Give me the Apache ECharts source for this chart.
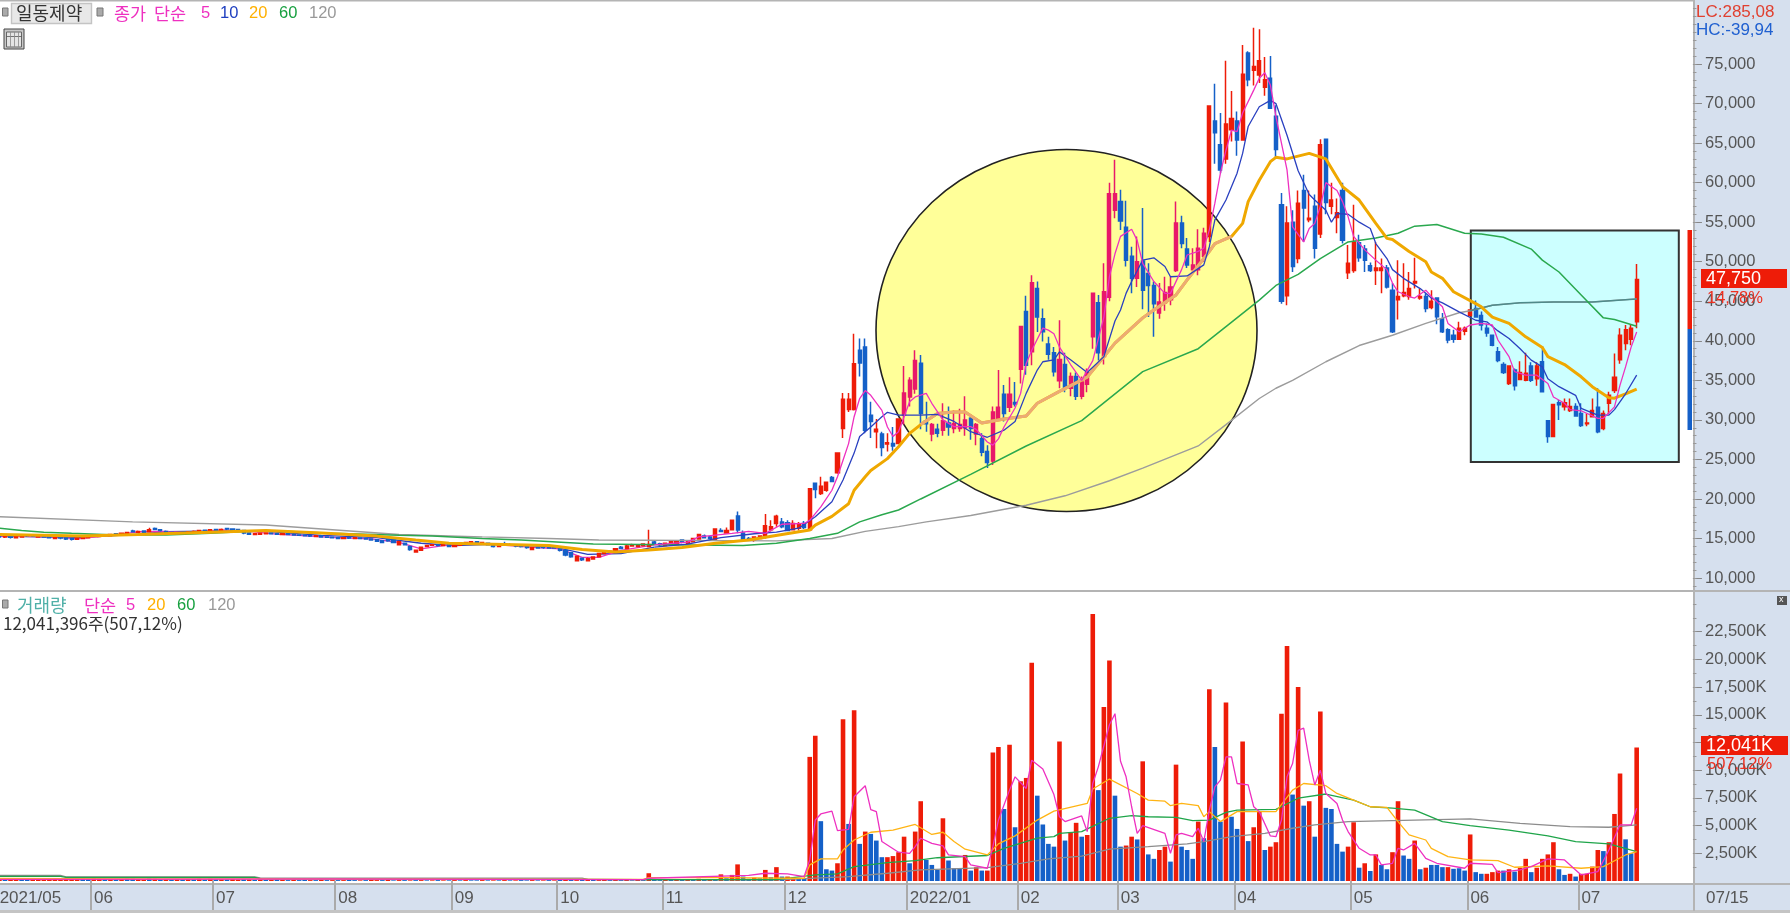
<!DOCTYPE html>
<html><head><meta charset="utf-8">
<style>html,body{margin:0;padding:0;background:#fff}#c{width:1790px;height:913px}</style>
<script src="https://cdn.jsdelivr.net/npm/echarts@6/dist/echarts.min.js"></script>
</head><body><div id="c"></div>
<script>
// Prices are in thousands of won, rows are [open, high, low, close]
const flatCandles = [
[15.3,15.45,15.1,15.2],[15.2,15.35,15.05,15.25],[15.3,15.4,15,15.15],[15.1,15.4,15.05,15.3],[15.2,15.45,15.15,15.35],[15.4,15.5,15.2,15.35],[15.4,15.5,15.2,15.3],[15.2,15.45,15.15,15.35],[15.35,15.4,15.1,15.2],[15.25,15.35,15,15.1],
[15,15.3,14.9,15.15],[15.2,15.25,14.9,15.05],[15.1,15.2,14.8,14.95],[15,15.05,14.75,14.9],[14.9,15.15,14.85,15.05],[15,15.25,14.95,15.15],[15.1,15.35,15.05,15.25],[15.35,15.45,15.2,15.3],[15.25,15.5,15.2,15.4],[15.45,15.55,15.3,15.4],
[15.35,15.6,15.3,15.5],[15.6,15.65,15.4,15.5],[15.45,15.75,15.4,15.65],[15.6,15.85,15.55,15.75],[15.95,16.1,15.75,15.85],[15.8,16,15.7,15.9],[15.95,16,15.7,15.8],[15.85,16.35,15.8,16.1],[16.25,16.4,16.05,16.15],[16.1,16.2,15.9,16],
[15.9,16,15.65,15.75],[15.8,15.85,15.55,15.7],[15.65,15.8,15.5,15.7],[15.75,15.85,15.55,15.65],[15.7,15.95,15.65,15.8],[15.75,16,15.7,15.9],[15.85,16.05,15.8,16],[16.05,16.1,15.85,15.95],[15.95,16.15,15.9,16.1],[16.15,16.2,15.95,16.05],
[16.05,16.25,16,16.15],[16.25,16.35,16.05,16.2],[16.2,16.25,16,16.05],[16.15,16.2,15.95,16.05],[16,16.05,15.55,15.7],[15.7,15.75,15.45,15.55],[15.5,15.7,15.45,15.6],[15.55,15.7,15.5,15.65],[15.6,15.75,15.55,15.7],[15.7,15.75,15.5,15.6],
[15.6,15.7,15.45,15.55],[15.5,15.65,15.45,15.6],[15.6,15.65,15.4,15.5],[15.5,15.55,15.35,15.45],[15.45,15.5,15.3,15.4],[15.4,15.45,15.25,15.35],[15.35,15.4,15.2,15.3],[15.25,15.4,15.2,15.35],[15.35,15.4,15.1,15.2],[15.2,15.25,15.05,15.15],
[15.15,15.2,15,15.1],[15.1,15.15,14.9,15],[15,15.15,14.95,15.1],[15.1,15.2,14.95,15.05],[15,15.15,14.9,15.1],[15.05,15.1,14.9,15],[15,15.1,14.85,14.95],[14.95,15,14.7,14.8],[14.85,14.9,14.55,14.65],[14.7,14.8,14.4,14.5],
[14.95,15,14.6,14.7],[14.8,14.85,14.4,14.5],[14.2,14.7,14.15,14.6],[14.4,14.5,14.1,14.2],[14,14.1,13.45,13.6],[13.3,13.55,13.2,13.5],[13.5,13.95,13.45,13.9],[14,14.2,13.9,14.1],[14.15,14.3,14.05,14.2],[14.2,14.3,14,14.1],
[14.1,14.3,14.05,14.25],[14.2,14.25,13.9,14],[14,14.2,13.95,14.15],[14.15,14.4,14.1,14.35],[14.3,14.55,14.25,14.5],[14.4,14.65,14.35,14.6],[14.6,14.65,14.4,14.5],[14.35,14.6,14.3,14.5],[14.4,14.45,14.1,14.2],[14.15,14.2,13.85,14],
[14,14.1,13.9,14.05],[14.3,14.6,14.1,14.2],[14.2,14.4,14.05,14.15],[14.1,14.2,13.9,14.05],[14.05,14.15,13.85,14],[13.95,14,13.7,13.85],[13.6,13.95,13.55,13.85],[13.85,14,13.7,13.8],[13.9,14,13.7,13.85],[13.9,13.95,13.7,13.8],
[13.85,13.95,13.7,13.8],[13.8,13.85,13.35,13.5],[13.5,13.55,12.75,12.9],[13.2,13.3,12.55,12.7],[12.2,12.85,12.1,12.75],[12.5,12.55,12.15,12.3],[12.2,12.6,12.15,12.45],[12.4,12.75,12.35,12.65],[12.7,13.2,12.65,13.1],[13.1,13.4,13,13.3],
[13.3,13.5,13.2,13.4],[13.4,13.8,13.35,13.7],[13.9,14.05,13.65,13.75],[13.75,14.2,13.7,14.05],[14.05,14.35,13.95,14.15],[14,14.3,13.9,14.2],[14.1,14.4,14,14.3],[14,16.1,13.95,14.25],[14.55,14.7,14.2,14.3],[14.35,14.45,14.05,14.2],
[14.1,14.5,14.05,14.4],[14.2,14.7,14.15,14.6],[14.25,14.8,14.2,14.7],[14.8,14.9,14.4,14.55],[14.4,14.8,14.35,14.7],[14.6,15.1,14.55,15],[14.95,15.6,14.9,15.5]];
const rallyCandles = [
[15.3,15.5,15.1,15.1],[15.2,15.3,14.9,15],[14.8,16.2,14.8,16.2],[16,16.3,15.8,15.9],[15.7,16.4,15.6,16],[16.1,17.4,16.1,17.3],[17.85,18.4,15.65,16.07],[15.7,16,14.9,14.9],[15,15.2,14.8,14.9],[14.8,15.2,14.6,15.2],
[15,15.4,14.9,15.3],[15.2,18.1,15,16.6],[16.1,17.3,15.9,16.5],[16.9,18,16.5,17.8],[17.1,17.6,16.3,16.5],[17,17.3,16,16],[16.1,17.3,16,16.9],[16.3,17.1,16,16.8],[16.9,17.2,16.2,16.4],[16.1,21.3,16,21.3],
[22,22,20.1,21.2],[20.7,22.8,20.5,21.6],[21.1,22.1,20.9,22.1],[22.7,22.9,22.1,22.2],[23.3,25.8,23.2,25.8],[28.9,33.4,27.7,32.6],[31.3,33.4,31,32.6],[31.3,40.9,31.2,37.1],[38.8,40.3,35.5,37.2],[39.2,40.3,28.3,28.7],
[30.6,32.3,27.7,29.8],[28.5,30.1,26.4,28.8],[28.2,28.5,25.4,26.5],[26.95,28.3,26,27.1],[27,29.1,26.1,26.7],[27,30.1,27,30.1],[30.6,36.8,29.4,33.4],[32.9,35.4,31.7,35],[33.9,38.8,33.3,37.5],[37.15,38.2,28.8,30.8],
[29.9,32.3,28.5,29.5],[28.2,29.6,27.3,29.4],[28.8,29.5,27.8,28.3],[28.7,32.1,28,29.9],[29.6,31.7,28,29.1],[28.9,31.2,28.3,29.5],[28.9,31.4,28.5,29.4],[29,33,28,30],[30.2,30.6,27.5,28.9],[28.2,29.6,26.8,29.4],
[27.6,28.3,25.4,25.9],[26,26.8,23.9,24.6],[24.8,31.7,24.3,31],[30.2,36.3,30,31.6],[33.25,34.4,29.8,30.8],[31.6,35.4,31,33.25],[32.2,34.8,31.7,32],[36.4,41.9,34.6,41.8],[43.7,45.7,35.7,36.9],[38.6,48.3,36.9,47.35],
[46.6,47.5,41.1,43],[42.8,44.1,39.9,41.15],[39.6,40.5,37.6,38.3],[38.5,39.2,35.5,36.1],[34.95,42.6,34,37.65],[37,38.5,33.5,34],[34,36,33,35.5],[35.5,36,32.5,33],[33,35.5,32.6,34.8],[34.5,36.5,33.5,36],
[40.5,46,39,46],[44.8,45.8,37.5,38.5],[38,49.8,37,46.2],[45.5,60,45,58.6],[56.5,62.9,55.5,58.6],[57.6,59.1,54,55.15],[54.35,57.7,49.4,50.2],[50.7,51.9,46,47.9],[47.9,53.2,46.8,50],[50.1,56.8,44,46.4],
[48.5,49.8,43,47],[47,47.5,40.5,44.7],[43.5,47.3,42.8,44.9],[44.8,48.1,43.8,46.1],[45.2,48.1,44.5,46.8],[48.9,57.6,48.7,54.9],[54.9,55.8,51.7,52.3],[51.6,53,49.2,49.6],[49,51.7,48.9,49.6],[49,54.1,48.3,51.7],
[50.7,54.3,50,53.6]];
const declineCandles = [
[53.2,69.7,52.5,69.7],[67.8,72.5,62.4,66.3],[64.8,68.8,61.2,61.6],[63,75.4,62.4,67.4],[66.7,71.6,65.2,68.1],[67.8,69,63.4,65.4],[65.4,77.4,65.4,73.7],[76.4,76.6,72.2,73],[74.2,79.6,72.3,74.7],[73.6,79.4,72.6,75.4],
[72.05,75.9,71,73],[73.2,76,69.4,69.4],[68.4,69.8,63,64.2],[57.2,58.7,44.7,45],[45.7,57,44.5,54.9],[55,56.5,48.7,49.4],[50.4,59,49.8,57.4],[59,61,52.5,56.8],[55.3,59,55,55.5],[57,58.5,50.4,51.7],
[53.5,65.5,53,64.8],[65.5,65.5,56,57.5],[57,60,56,57.8],[55.6,58,53.6,56.2],[59,60,52.3,52.7],[48.6,52.1,47.8,49.8],[48.9,57.2,48.6,52.5],[52.4,53.4,50,50.5],[51.6,52.1,48.7,50.2],[49.5,49.9,48.7,48.9],
[48.9,52.5,47.05,49.2],[48.9,50.4,46,49.2],[49.2,49.6,46.6,46.8],[46.4,47.3,41,41.15],[45.2,50.2,42.7,45.6],[45.7,49.8,45.5,46.1],[45.6,48.7,45.2,46.6],[47.3,50.5,46.6,47.5],[45.4,46.6,45.2,45.6],[45.6,46,43.6,44.1],
[44.2,46.4,44,45],[45.4,45.5,42.1,43.05],[42.8,43.5,41,41.15],[41.4,41.6,39.7,40.1],[40.7,41.4,39.75,40.2],[40.2,42.4,40.1,41.6],[41.2,41.8,40.7,41.6],[43.2,43.9,43.1,43.9],[44.1,45.1,42.9,43],[43.2,43.7,41.3,42],
[41.6,42.2,40.5,41],[40.7,40.8,39.3,39.45],[38.6,39.2,37.3,37.5],[37,37.3,35.8,36],[34.6,36.9,34.4,36.8],[36.3,36.5,33.7,34.3],[35.1,37.4,35,36],[35,38.5,34.9,35.9],[36.8,37.3,34.8,35],[35.2,37.3,34.3,36.8],
[37.35,39.3,33.5,33.55],[29.9,29.9,27.1,27.9],[27.9,31.95,27.9,31.95],[32.15,32.5,30,31.9],[31.65,32.7,31.2,32.15],[31.2,32.7,31,31.7],[31.7,32.1,30.4,30.5],[30.8,32.1,29.1,29.3],[29.5,30.8,29.2,29.6],[30.4,32.7,30.3,31.2],
[31.6,34,28.3,28.5],[28.9,31.2,28.7,30.8],[32.1,33.55,30.7,33.1],[33.7,38.4,33.4,35.4],[37.6,41.6,37.1,40.7],[39.65,42,38.8,41.4],[40.2,42,39.45,41.6],[42.4,49.7,41.6,47.75]];

// Moving averages of the close: vertices as [session, price]
const priceMa5 = [[0,15.3],[10,15.2],[14,14.95],[20,15.4],[25,15.85],[30,15.9],[34,15.7],[40,16.1],[45,15.9],[50,15.55],[60,15.15],[67,14.95],[72,14.5],[76,13.7],[80,14.1],[85,14.4],[90,14.2],[97,13.85],[101,13.7],[105,12.6],[108,12.6],[112,13.5],[118,14.2],[124,14.55],[126,15.2],[132,15.65],[135,15.9],[138,15.65],[141,16.8],[145,16.9],[146,17.3],[148,19],[150,21.1],[151,22.8],[152,24.9],[153,27],[154,30.4],[155,32.7],[156,33.7],[157,33.1],[159,31.2],[160,29.1],[161,27.9],[162,28.5],[163,30.4],[164,32.3],[165,32.9],[167,33.35],[168,32.1],[170,30],[172,29.15],[175,29.15],[176,28.8],[178,27.2],[179,26.8],[180,27.6],[181,29.1],[183,31.5],[184,33.35],[185,37.1],[186,38.8],[188,41.6],[189,41.35],[190,40.9],[191,39.2],[193,37],[195,35],[197,37.5],[199,43],[200,48.1],[201,51],[202,53.2],[204,54.1],[205,52.7],[206,49.8],[208,47.5],[210,46],[211,46],[213,49],[214,50.85],[216,51.3],[217,51.7],[218,54],[219,57.4],[220,61.2],[221,64.1],[222,66.65],[223,66.45],[224,68.8],[226,71.7],[227,73.2],[228,73.9],[229,72.35],[230,68.35],[232,61.6],[233,54.4],[235,52.5],[236,54.2],[237,54.85],[238,57],[239,60],[241,59],[242,57.6],[243,55.7],[244,53.2],[246,51.5],[248,50.2],[250,49],[251,47.3],[252,46.2],[254,45.6],[255,45.4],[257,46.4],[258,45.6],[260,44.3],[261,42.2],[263,41.15],[265,42],[267,42.2],[269,42],[270,40.1],[272,38],[273,36.1],[275,35.65],[277,35.65],[279,34.6],[280,32.9],[282,32.1],[283,31.3],[285,31.15],[288,30.2],[289,30.2],[291,31.65],[292,34.4],[293,36.7],[294,39.2],[295,41.1]];
const priceMa10 = [[0,15.3],[14,15.1],[24,15.5],[30,15.85],[40,15.95],[48,15.9],[58,15.4],[68,15.1],[76,14.4],[82,14.1],[90,14.3],[100,13.9],[106,13],[112,13.1],[118,13.9],[124,14.3],[130,15.1],[136,15.6],[140,15.8],[144,16.3],[147,17.75],[150,19.65],[152,22.4],[154,25.8],[155,27.9],[157,29.1],[159,30.4],[160,30.95],[162,30.6],[166,30.6],[169,30.7],[172,29.8],[175,28.5],[178,27.8],[181,28.7],[183,29.8],[185,33.35],[187,36.3],[188,37.35],[190,37.6],[191,38.6],[193,37.6],[196,36],[199,38],[201,42.5],[202,43.9],[203,46],[204,47.5],[206,50.2],[208,50.5],[210,49.4],[211,48.1],[214,48.2],[217,49.6],[218,51.9],[219,55.3],[221,57.8],[223,61.2],[224,63.7],[225,67.1],[227,69.6],[229,70.4],[230,70],[232,66],[234,61.5],[236,58.5],[237,57.8],[239,56.5],[240,55],[241,56.1],[243,56],[245,55],[247,54.2],[248,52.3],[250,50.4],[251,49],[253,47.9],[256,46.6],[258,45.4],[260,44.8],[263,43.65],[266,42.6],[268,42.4],[270,41.25],[272,40.3],[274,39],[276,37.55],[278,36.7],[279,35.2],[281,34.2],[284,33.1],[285,31.45],[288,30.6],[290,30.6],[291,31.3],[293,33.3],[295,35.65]];
const priceMa20 = [[0,15.5],[15,15.3],[25,15.5],[38,15.8],[48,16],[58,15.7],[68,15.3],[75,14.8],[81,14.4],[87,14.3],[99,14.1],[105,13.6],[108,13.45],[111,13.3],[117,13.55],[123,13.85],[129,14.4],[135,14.8],[141,15.5],[146,16.07],[147,16.7],[150,17.8],[153,19.4],[154,21.1],[156,22.8],[157,23.6],[160,25.1],[162,26.6],[164,28.3],[166,29.4],[169,30.8],[172,31],[174,31],[177,29.6],[181,30.1],[185,30.5],[187,32.1],[191,33.6],[196,35.4],[201,39.7],[206,42.9],[208,43.9],[212,45.8],[214,47.7],[218,51.3],[219,52.3],[222,53.2],[224,54.85],[225,57.6],[227,60.3],[229,62.65],[230,63.2],[232,63],[236,63.7],[239,63],[242,59.5],[245,57.8],[248,54.85],[250,52.95],[251,52.8],[254,51.3],[257,50],[258,48.7],[260,47.9],[262,46.2],[266,44.7],[267,44.3],[269,43],[272,42.2],[275,40.5],[278,39.15],[279,38],[282,37],[285,35.45],[287,34.2],[290,32.8],[291,32.75],[293,33.3],[295,33.9]];
const priceMa60 = [[0,16.3],[4,16],[8,15.8],[13,15.65],[21,15.45],[30,15.45],[38,15.65],[48,16],[60,15.65],[72,15.4],[78,15.3],[87,15],[94,14.8],[102,14.5],[107,14.3],[134,14.1],[140,14.4],[146,15],[151,15.65],[155,17.1],[159,18],[162,18.6],[166,20],[175,23.1],[185,26.7],[195,29.9],[206,36.1],[216,39],[221,41.8],[227,45.15],[230,47],[234,48.4],[238,50.4],[243,52.5],[248,53],[252,53.6],[255,54.5],[259,54.7],[264,53.6],[267,53.5],[271,53.1],[276,51.6],[278,50.2],[281,48.7],[285,45.8],[289,42.9],[291,42.7],[295,41.85]];
const priceMa120 = [[0,17.75],[24,17.1],[48,16.7],[72,15.5],[87,15.2],[99,15],[108,14.8],[140,14.7],[150,15],[156,15.9],[162,16.5],[167,17.1],[175,17.9],[185,19.2],[192,20.4],[200,22.3],[206,23.9],[216,26.7],[221,29.4],[227,32.7],[230,34],[233,35],[239,37.35],[245,39.4],[251,40.7],[257,42.2],[263,43.55],[265,43.8],[269,44.5],[274,44.8],[280,44.9],[287,44.9],[295,45.3]];

// Daily volume in millions of shares, rows are [volume, 1 if the bar is red]
const quietVolumes = [
[.2,1],[.18,0],[.22,1],[.16,1],[.2,0],[.18,0],[.24,1],[.2,1],[.17,1],[.2,1],[.18,1],[.15,1],[.2,1],[.2,1],[.16,1],[.22,0],[.2,0],[.24,1],[.2,1],[.18,0],
[.16,1],[.14,0],[.18,1],[.2,0],[.2,0],[.16,1],[.14,1],[.22,0],[.2,1],[.14,0],[.16,1],[.14,0],[.16,1],[.14,0],[.18,1],[.16,0],[.2,1],[.14,0],[.2,1],[.16,0],
[.16,1],[.14,0],[.18,1],[.14,1],[.16,0],[.14,1],[.12,0],[.12,1],[.1,0],[.1,1],[.12,0],[.1,1],[.08,0],[.1,1],[.08,0],[.1,0],[.08,1],[.08,0],[.1,1],[.08,0],
[.08,1],[.08,0],[.08,1],[.1,0],[.08,0],[.06,1],[.08,0],[.1,1],[.08,1],[.08,0],[.1,1],[.06,0],[.08,1],[.08,0],[.06,1],[.08,0],[.08,1],[.06,0],[.06,1],[.08,0],
[.06,1],[.06,0],[.08,1],[.06,0],[.08,1],[.06,0],[.06,0],[.08,1],[.06,0],[.06,1],[.06,0],[.08,1],[.06,0],[.06,1],[.08,0],[.06,0],[.08,1],[.06,0],[.06,1],[.08,0],
[.06,1],[.1,0],[.12,1],[.1,0],[.08,1],[.1,0],[.1,1],[.1,0],[.08,1],[.1,1],[.08,0],[.1,1],[.08,0],[.1,1],[.06,0],[.1,1],[.08,0],[.7,1],[.12,0],[.08,0],
[.1,1],[.1,0],[.12,1],[.1,0],[.12,1],[.14,0],[.2,1],[.16,0],[.12,1],[.12,0],[.6,1],[.25,0],[.55,1],[1.5,1],[.4,0],[.2,0],[.3,1],[.25,0],[1,1],[.35,0],
[1.25,1],[.4,0],[.4,1],[.3,1],[.25,0],[.25,0]];
const activeVolumes = [
[11.2,1],[13.1,1],[5.4,0],[1.06,0],[.94,0],[1.6,1],[14.6,1],[5.15,0],[15.4,1],[3.35,0],[4.46,1],[4.25,0],[3.65,0],[2.15,0],[2.15,1],[2.25,1],[2.6,1],[4,1],[1.6,0],[4.46,1],
[7.2,1],[1.9,0],[1.45,0],[1,0],[5.66,1],[1.85,0],[1.15,0],[1.15,0],[2.35,1],[.94,0],[1.24,1],[.94,0],[.94,1],[11.6,1],[12.1,1],[6.5,0],[12.3,1],[4.85,0],[9,1],[9.3,1],
[19.7,1],[7.7,0],[5.1,0],[3.35,0],[3.1,0],[12.6,1],[3.65,0],[4.4,1],[5.25,1],[4,0],[4.15,1],[24.1,1],[8.2,0],[15.7,1],[19.9,1],[7.7,0],[3.1,0],[3.2,1],[4,1],[3.75,0],
[10.8,1],[2.4,0],[2,0],[2.8,1],[3.1,1],[1.75,0],[10.5,1],[3.1,0],[2.8,0],[2,0],[5.36,1],[3.86,0],[17.3,1],[12.1,0],[5.36,0],[16.1,1],[5.8,0],[4.7,0],[12.6,1],[3.6,0],
[4.85,1],[6.25,1],[2.8,0],[3.1,1],[3.5,1],[15.1,1],[21.2,1],[7.8,0],[17.5,1],[6.8,0],[7.2,1],[4,0],[15.3,1],[6.6,0],[6.5,0],[3.35,0],[2.65,0],[3.1,1],[5.3,1],[1.2,0],
[1.6,1],[.9,0],[2.4,1],[1.45,0],[1.06,0],[2.6,1],[7.2,1],[2.3,0],[2,0],[3.65,1],[1.06,0],[1.2,1],[1.45,0],[1.45,0],[1.25,0],[1.25,1],[1.1,0],[1.15,0],[.94,0],[4.2,1],
[.8,0],[.65,0],[.65,1],[.8,1],[.94,1],[.94,0],[1.06,1],[.85,0],[1.2,1],[2,1],[.8,0],[1.2,1],[2,1],[2.4,1],[3.5,1],[1.06,0],[.55,0],[.65,1],[.4,0],[.65,1],
[.65,1],[1.3,1],[2.8,1],[2.7,0],[3.5,1],[6.05,1],[9.7,1],[3.76,0],[2.5,0],[12.04,1]];

// Moving averages of the volume: vertices as [session, millions]
const volumeMa5 = [[0,.15],[60,.18],[116,.13],[117,.25],[135,.5],[138,.7],[142,.64],[145,.4],[146,1.9],[147,5.5],[148,6.05],[150,6.3],[151,4.55],[153,4.65],[154,7.6],[156,8.6],[157,6.45],[158,6.26],[159,3.56],[162,2.6],[164,2.5],[165,3.1],[166,3.86],[168,3.4],[170,3.17],[171,2.35],[174,2.2],[175,1.45],[178,1.15],[179,3.1],[180,5.5],[182,8.2],[183,9.4],[185,8.35],[186,10.9],[188,10.1],[190,7.8],[191,5.8],[192,5.36],[195,5.87],[196,4.46],[197,8.8],[198,10.3],[200,14.1],[201,15.1],[202,10.8],[203,9.4],[204,6.7],[205,4.3],[206,5],[210,4.3],[211,2.5],[212,4.16],[213,4.3],[215,4],[216,4.76],[217,3.56],[218,6.4],[219,8.5],[220,9.1],[221,11.2],[222,11.2],[223,8.8],[225,8.67],[226,6.7],[227,6.26],[229,4.07],[230,4],[231,5.5],[232,9.4],[233,10.6],[234,13.6],[235,13.8],[236,10.9],[237,8.67],[238,10],[239,7.9],[241,7],[242,5.5],[243,4.46],[245,2.95],[247,2.35],[248,2.35],[249,1.45],[251,1.6],[252,2.95],[253,2.8],[255,3.4],[257,2.05],[259,1.6],[264,1.15],[265,1.6],[269,1.5],[270,.76],[274,1],[276,1.3],[279,2],[282,1.9],[285,.55],[288,.85],[290,2.8],[292,5.06],[294,5.06],[295,6.56]];
const volumeMa20 = [[0,.24],[27,.18],[47,.2],[116,.15],[117,.3],[130,.3],[143,.25],[145,.25],[146,1.45],[148,2],[151,2],[152,2.8],[154,3.7],[157,4.4],[161,4.6],[165,5.1],[168,4.2],[170,4.4],[172,3.56],[174,2.87],[178,2.35],[180,3.35],[183,4.07],[187,5.5],[190,6.3],[196,7],[197,8.3],[200,9.2],[205,7.9],[207,7.3],[210,7.2],[211,6.8],[213,7],[216,6.8],[217,5.8],[218,6.26],[220,5.36],[223,6.26],[226,6.26],[230,6.26],[233,8.2],[235,8.8],[239,8.6],[241,7.9],[244,7.3],[247,6.7],[250,6.65],[252,5.36],[254,4.16],[257,3.7],[258,2.95],[261,2.2],[265,1.9],[270,1.84],[273,1.24],[279,1.36],[285,1.15],[289,1.3],[293,2.35],[295,2.65]];
const volumeMa60 = [[0,.42],[11,.42],[12,.32],[46,.32],[47,.2],[105,.15],[116,.13],[140,.13],[147,.55],[151,.64],[154,1.3],[160,1.66],[165,1.84],[169,2.1],[178,2.3],[181,2.95],[187,3.86],[190,4],[191,4.3],[195,4.46],[200,5.66],[204,5.9],[207,5.8],[212,5.75],[215,5.45],[218,5.5],[221,6.2],[223,6.4],[230,6.47],[234,7.47],[239,7.85],[244,7.3],[247,6.7],[251,6.57],[255,6.4],[260,5.36],[265,5],[272,4.6],[279,4.07],[284,3.56],[290,3.35],[295,2.65]];
const volumeMa120 = [[0,.5],[11,.5],[12,.38],[46,.36],[47,.28],[105,.26],[106,.14],[140,.1],[153,.4],[160,.7],[166,1],[178,1.2],[184,1.6],[189,2],[195,2.25],[200,2.87],[207,3.1],[214,3.35],[217,3.56],[222,4],[228,4.3],[233,4.76],[237,5.06],[243,5.36],[265,5.6],[274,5.2],[283,4.9],[290,4.85],[295,5.06]];

// Axis text
const monthStarts = [0,17,39,61,82,101,120,142,164,184,202,223,244,265,285];
const monthNames = ['2021/05','06','07','08','09','10','11','12','2022/01','02','03','04','05','06','07'];
const priceTicks = [10,15,20,25,30,35,40,45,50,55,60,65,70,75];
const volumeTicks = [2.5,5,7.5,10,12.5,15,17.5,20,22.5];

const SESSIONS = 306;
const candles = flatCandles.concat(rallyCandles, declineCandles);
const volumes = quietVolumes.concat(activeVolumes);
const RED='#ee1c08', BLUE='#1560c8', CRIMSON='#e8186a';
const sessions = Array.from({length:SESSIONS},(_,i)=>String(i));
const range=(a,b,s)=>{const r=[];for(let v=a;v<=b+1e-9;v+=s)r.push(+v.toFixed(3));return r;};

const candleData = candles.map((r,i)=>{
  const [o,h,l,c]=r, item={value:[o,c,l,h]};
  if(i>=163 && i<=217 && c>=o) item.itemStyle={color:CRIMSON,borderColor:CRIMSON,borderColorDoji:CRIMSON};
  return item;
});
const volumeData = volumes.map(([v,up])=>({value:v,itemStyle:{color:up?RED:BLUE}}));
const inPriceLine=(name,data,color,width,z)=>({name,type:'line',data,xAxisIndex:0,yAxisIndex:0,symbol:'none',silent:true,z:z||4,
  lineStyle:{color,width},emphasis:{disabled:true}});
const inVolLine=(name,data,color)=>({name,type:'line',data,xAxisIndex:1,yAxisIndex:2,symbol:'none',silent:true,z:4,
  lineStyle:{color,width:1.3},emphasis:{disabled:true}});

const KR='"Noto Sans CJK KR","Liberation Sans",sans-serif', NUM='"Liberation Sans",sans-serif';
const T=(x,y,text,fill,size,font,extra)=>Object.assign({type:'text',x,y,z:20,style:{text,fill,font:`${size||15}px ${font||KR}`,verticalAlign:'middle',textAlign:'left'}},extra||{});
const R=(x,y,w,h,fill,z,stroke)=>({type:'rect',shape:{x,y,width:w,height:h},z:z==null?20:z,silent:true,style:{fill,stroke:stroke||null,lineWidth:stroke?1:0}});
const PANEL='#d6e0ee', RULE='#b4b4b4';

const graphic=[
  R(0,0,1790,1.5,RULE,-5),
  {type:'ellipse',shape:{cx:1066.5,cy:330.5,rx:190.5,ry:181},z:-4,silent:true,style:{fill:'#ffff99',stroke:'#222',lineWidth:1.6}},
  {type:'rect',shape:{x:1470.8,y:230.5,width:208,height:231.5},z:-4,silent:true,style:{fill:'#ccffff',stroke:'#333',lineWidth:2}},
  R(1694,0,96,913,PANEL,-3),
  R(0,884,1790,27,PANEL,-3),
  R(0,910,1790,3,'#c4c4c4',-2),
  R(0,590,1790,2,RULE,-2),
  R(0,883,1790,2,RULE,-2),
  R(1693,0,2,911,RULE,-2),
  R(1687.5,230,4.5,99,RED,5),
  R(1687.5,329,4.5,101,BLUE,5),
  // top-left legend
  R(2.5,8,5.5,8,'#aaa',20,'#777'),
  {type:'rect',shape:{x:11.5,y:3.5,width:80,height:20},z:19,silent:true,style:{fill:'#e8e8e8',stroke:'#c4c4c4',lineWidth:1.4}},
  T(16,13.5,'일동제약','#333',18),
  R(97,8,6,8,'#aaa',20,'#777'),
  T(114,13.5,'종가','#ee30c0',17.5),
  T(154,13.5,'단순','#ee30c0',17.5),
  T(201,13,'5','#ee30c0',16.5,NUM),
  T(220,13,'10','#2040c0',16.5,NUM),
  T(249,13,'20','#ffb000',16.5,NUM),
  T(279,13,'60','#18a040',16.5,NUM),
  T(309,13,'120','#999',16.5,NUM),
  R(4,29,20,20,'#c8c8c8',20,'#444'),
  R(6.5,32,15,15,'#e4e4e4',21,'#666'),
  R(6.5,36,15,0.8,'#555',22),
  R(10,32,0.8,15,'#888',22),R(14,32,0.8,15,'#888',22),R(18,32,0.8,15,'#888',22),
  // price panel readouts
  T(1696,12,'LC:285,08','#e04030',17,NUM),
  T(1696,30,'HC:-39,94','#2060d0',17,NUM),
  R(1701,269,86,19,RED,20),
  T(1706,279,'47,750','#fff',18,NUM,{z:21}),
  T(1707,298,'14,78%','#ee3020',16.5,NUM,{z:21}),
  // volume legend
  R(2.5,600,5.5,8,'#aaa',20,'#777'),
  T(17,605,'거래량','#50b0a8',18),
  T(84,605,'단순','#ee30c0',17.5),
  T(126,605,'5','#ee30c0',16.5,NUM),
  T(147,605,'20','#ffb000',16.5,NUM),
  T(177,605,'60','#18a040',16.5,NUM),
  T(208,605,'120','#999',16.5,NUM),
  T(3,624,'12,041,396주(507,12%)','#333',17),
  R(1777,596,10,9,'#555',20),
  T(1779,600,'x','#fff',9,NUM,{z:21}),
  // volume panel readouts
  R(1701,736,87,19,RED,20),
  T(1706,746,'12,041K','#fff',18,NUM,{z:21}),
  T(1707,764,'507,12%','#ee3020',16.5,NUM,{z:21}),
  T(1706,898,'07/15','#555',17,NUM)
];

const labelStyle={color:'#555',fontFamily:NUM,fontSize:16.5,align:'left',margin:12};
const axisTickStyle=(len,color)=>({show:true,length:len,lineStyle:{color,width:1}});
const noLine={show:false,onZero:false};
const option={
  animation:false,backgroundColor:'#fff',
  graphic:{elements:graphic},
  grid:[
    {left:-3.35,top:1,width:1698.3,height:590,outerBoundsMode:'none'},
    {left:-3.35,top:592,width:1698.3,height:289,outerBoundsMode:'none'}
  ],
  xAxis:[
    {type:'category',gridIndex:0,data:sessions,boundaryGap:true,axisLine:noLine,axisTick:{show:false},axisLabel:{show:false}},
    {type:'category',gridIndex:1,position:'bottom',data:sessions,boundaryGap:true,axisLine:noLine,axisTick:{show:false},axisLabel:{show:false}},
    {type:'value',gridIndex:1,position:'bottom',min:0,max:SESSIONS,splitLine:{show:false},axisLine:noLine,
      axisTick:{show:true,length:29,lineStyle:{color:'#aaa',width:2},customValues:monthStarts.slice(1)},
      axisLabel:{show:true,customValues:monthStarts,formatter:v=>monthNames[monthStarts.indexOf(+v)]||'',
        align:'left',margin:7,padding:[0,0,0,3],color:'#555',fontFamily:NUM,fontSize:17,hideOverlap:false,showMinLabel:true,lineHeight:20}}
  ],
  yAxis:[
    {type:'value',gridIndex:0,position:'right',offset:-2,min:8.36,max:82.97,splitLine:{show:false},axisLine:noLine,
      axisTick:Object.assign(axisTickStyle(9,'#888'),{customValues:priceTicks}),
      axisLabel:Object.assign({show:true,customValues:priceTicks,formatter:v=>Math.round(v*1000).toLocaleString('en-US')},labelStyle)},
    {type:'value',gridIndex:0,position:'right',offset:-2,min:8.36,max:82.97,splitLine:{show:false},axisLine:noLine,
      axisTick:Object.assign(axisTickStyle(3.5,'#999'),{customValues:range(9,82,1)}),axisLabel:{show:false}},
    {type:'value',gridIndex:1,position:'right',offset:-2,min:0,max:26.08,splitLine:{show:false},axisLine:noLine,
      axisTick:Object.assign(axisTickStyle(9,'#888'),{customValues:volumeTicks}),
      axisLabel:Object.assign({show:true,customValues:volumeTicks,formatter:v=>Math.round(v*1000).toLocaleString('en-US')+'K'},labelStyle)},
    {type:'value',gridIndex:1,position:'right',offset:-2,min:0,max:26.08,splitLine:{show:false},axisLine:noLine,
      axisTick:Object.assign(axisTickStyle(3.5,'#999'),{customValues:range(1.25,26.25,1.25).filter(v=>v<26)}),axisLabel:{show:false}}
  ],
  series:[
    inPriceLine('120',priceMa120,'#9c9c9c',1.4),
    inPriceLine('120b',priceMa120.filter(p=>p[0]>=265),'#4f8a8a',1.5),
    inPriceLine('60',priceMa60,'#2aa84e',1.5),
    inPriceLine('20',priceMa20,'#efa800',3),
    inPriceLine('20b',priceMa20.filter(p=>p[0]>=166&&p[0]<=222),'#ecab74',3),
    inPriceLine('10a',priceMa10.filter(p=>p[0]<=118),'#2a40c0',1.3,2),
    inPriceLine('5a',priceMa5.filter(p=>p[0]<=118),'#ee30c0',1.3,2),
    {name:'candle',type:'candlestick',xAxisIndex:0,yAxisIndex:0,data:candleData,barWidth:3.6,silent:true,z:3,
      itemStyle:{color:RED,color0:BLUE,borderColor:RED,borderColor0:BLUE,borderColorDoji:RED,borderWidth:1.5},emphasis:{disabled:true}},
    inPriceLine('10',priceMa10.filter(p=>p[0]>=118),'#2a40c0',1.3),
    inPriceLine('5',priceMa5.filter(p=>p[0]>=118),'#ee30c0',1.3),
    {name:'volume',type:'bar',xAxisIndex:1,yAxisIndex:2,data:volumeData,barWidth:4.6,silent:true,z:3,emphasis:{disabled:true}},
    inVolLine('v120',volumeMa120,'#8c8c8c'),
    inVolLine('v60',volumeMa60,'#1fa54a'),
    inVolLine('v20',volumeMa20,'#ffb414'),
    inVolLine('v5',volumeMa5,'#ee30c0')
  ]
};
const chart=echarts.init(document.getElementById('c'),null,{renderer:'canvas'});
chart.setOption(option);
</script></body></html>
